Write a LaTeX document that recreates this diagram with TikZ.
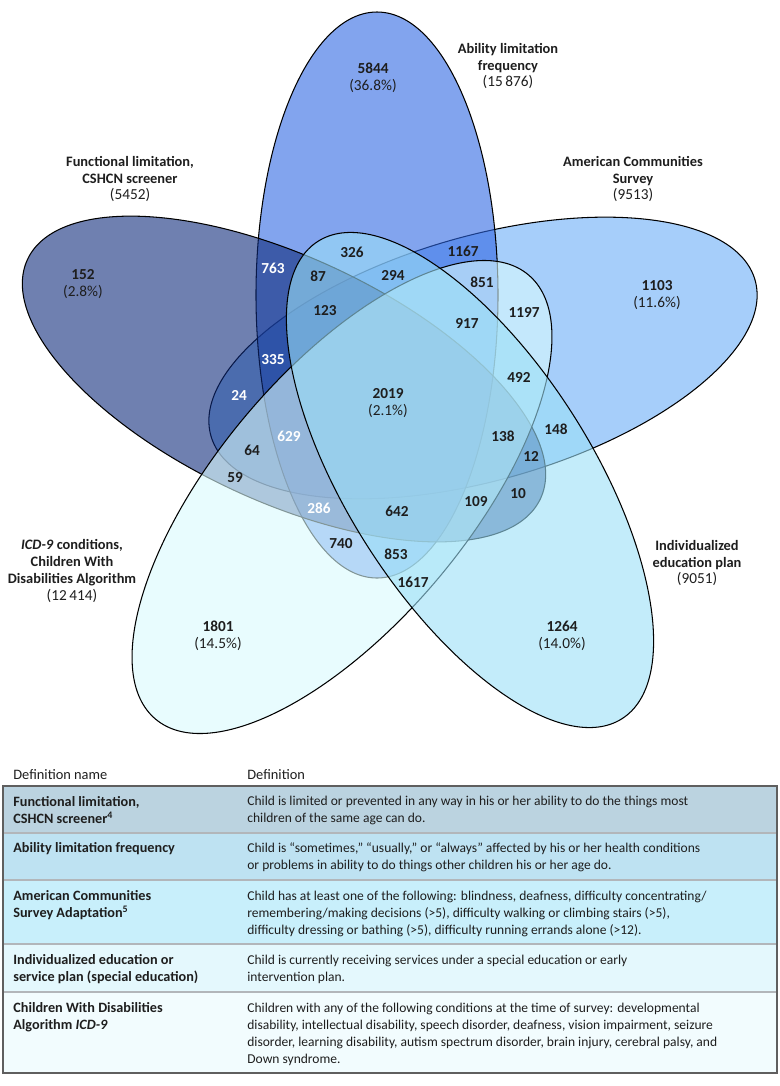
\documentclass[tikz,border=0pt]{standalone}
\usepackage{fontspec}
\setmainfont{Carlito}
\usepackage{tikz}
\definecolor{flblue}{RGB}{15,43,123}
\definecolor{alblue}{RGB}{47,103,227}
\definecolor{acsblue}{RGB}{107,173,247}
\definecolor{icdcyan}{RGB}{217,250,253}
\definecolor{iepcyan}{RGB}{155,223,247}
\definecolor{rowfl}{RGB}{187,211,224}
\definecolor{rowal}{RGB}{190,226,242}
\definecolor{rowacs}{RGB}{200,239,251}
\definecolor{rowiep}{RGB}{228,248,253}
\definecolor{rowicd}{RGB}{242,252,254}
\definecolor{txtgray}{RGB}{30,30,30}
\definecolor{rulegray}{RGB}{95,95,95}
\definecolor{sepgray}{RGB}{178,182,186}
\newcommand{\pct}[1]{\\\mdseries(#1\%)}

\begin{document}
\begin{tikzpicture}[
  x=0.02cm, y=-0.02cm,
  vset/.style={draw=black, line width=0.6pt, fill opacity=0.6},
  count/.style={font=\fontsize{8.7}{9.6}\selectfont\bfseries, align=center, text=txtgray, inner sep=0pt},
  wcount/.style={count, text=white},
  setname/.style={font=\fontsize{8.2}{9.6}\selectfont\bfseries, align=center, text=txtgray, inner sep=0pt},
  head/.style={anchor=west, font=\fontsize{8.2}{9.6}\selectfont, text=txtgray, inner sep=0pt},
  defname/.style={anchor=west, align=left, font=\fontsize{8.1}{9.64}\selectfont\bfseries, text=txtgray, inner sep=0pt},
  deftext/.style={anchor=west, align=left, font=\fontsize{7.7}{9.64}\selectfont, text=txtgray, inner sep=0pt},
  seprule/.style={sepgray, line width=1pt},
  frame/.style={rulegray, line width=0.7pt}
]
\useasboundingbox (0,0) rectangle (780,1086);

% the five sets
\draw[vset, fill=acsblue, shift={(483,358)}, rotate=16]    (0,0) ellipse [x radius=283, y radius=122];
\draw[vset, fill=alblue,  shift={(377,295)}, rotate=90]    (0,0) ellipse [x radius=283, y radius=121];
\draw[vset, fill=flblue,  shift={(284,379)}, rotate=-25]   (0,0) ellipse [x radius=283, y radius=122];
\draw[vset, fill=icdcyan, shift={(342,497)}, rotate=50]    (0,0) ellipse [x radius=290, y radius=126];
\draw[vset, fill=iepcyan, shift={(470,480)}, rotate=-57.5] (0,0) ellipse [x radius=283, y radius=122];

% set names
\node[setname] (nfl)  at (130,179) {Functional limitation,\\CSHCN screener\\\mdseries\fontsize{8.7}{9.6}\selectfont(5452)};
\node[setname] (nal)  at (508,66)  {Ability limitation\\frequency\\\mdseries\fontsize{8.7}{9.6}\selectfont(15\,876)};
\node[setname] (nacs) at (633,179) {American Communities\\Survey\\\mdseries\fontsize{8.7}{9.6}\selectfont(9513)};
\node[setname] (nicd) at (72,571)  {\textit{ICD-9} conditions,\\Children With\\Disabilities Algorithm\\\mdseries\fontsize{8.7}{9.6}\selectfont(12\,414)};
\node[setname] (niep) at (697,563) {Individualized\\education plan\\\mdseries\fontsize{8.7}{9.6}\selectfont(9051)};

% counts
\node[count]  (c5844) at (373,78)  {5844\pct{36.8}};
\node[count]  (c152)  at (83,284)  {152\pct{2.8}};
\node[count]  (c1103) at (657,295) {1103\pct{11.6}};
\node[count]  (c1801) at (218,636) {1801\pct{14.5}};
\node[count]  (c1264) at (562,636) {1264\pct{14.0}};
\node[count]  (c2019) at (388,403) {2019\pct{2.1}};
\node[wcount] (c763)  at (273,268) {763};
\node[count]  (c87)   at (318,276) {87};
\node[count]  (c326)  at (352,252) {326};
\node[count]  (c294)  at (393,275) {294};
\node[count]  (c1167) at (463,251) {1167};
\node[count]  (c851)  at (482,282) {851};
\node[count]  (c123)  at (325,311) {123};
\node[count]  (c917)  at (467,323) {917};
\node[count]  (c1197) at (524,312) {1197};
\node[wcount] (c335)  at (273,360) {335};
\node[wcount] (c24)   at (239,395) {24};
\node[count]  (c492)  at (519,377) {492};
\node[wcount] (c629)  at (289,436) {629};
\node[count]  (c64)   at (252,450) {64};
\node[count]  (c59)   at (235,478) {59};
\node[count]  (c138)  at (503,436) {138};
\node[count]  (c148)  at (556,429) {148};
\node[count]  (c12)   at (531,456) {12};
\node[count]  (c10)   at (518,494) {10};
\node[count]  (c109)  at (476,502) {109};
\node[count]  (c642)  at (397,511) {642};
\node[wcount] (c286)  at (319,508) {286};
\node[count]  (c740)  at (341,544) {740};
\node[count]  (c853)  at (396,554) {853};
\node[count]  (c1617) at (413,582) {1617};

% definitions table
\fill[rowfl]  (3,786)  rectangle (777,833);
\fill[rowal]  (3,833)  rectangle (777,880);
\fill[rowacs] (3,880)  rectangle (777,944);
\fill[rowiep] (3,944)  rectangle (777,992);
\fill[rowicd] (3,992)  rectangle (777,1073);
\draw[seprule] (3,833) -- (777,833);
\draw[seprule] (3,880) -- (777,880);
\draw[seprule] (3,944) -- (777,944);
\draw[seprule] (3,992) -- (777,992);
\draw[frame] (3,786) rectangle (777,1073);

\node[head] (hname) at (13,775)  {Definition name};
\node[head] (hdef)  at (247,775) {Definition};

\node[defname] (dfl)  at (13,810)   {Functional limitation,\\CSHCN screener\textsuperscript{4}};
\node[deftext] (tfl)  at (247,810)  {Child is limited or prevented in any way in his or her ability to do the things most\\children of the same age can do.};
\node[defname] (dal)  at (13,849)   {Ability limitation frequency};
\node[deftext] (tal)  at (247,857)  {Child is “sometimes,” “usually,” or “always” affected by his or her health conditions\\or problems in ability to do things other children his or her age do.};
\node[defname] (dacs) at (13,905)   {American Communities\\Survey Adaptation\textsuperscript{5}};
\node[deftext] (tacs) at (247,914)  {Child has at least one of the following: blindness, deafness, difficulty concentrating/\\remembering/making decisions (>5), difficulty walking or climbing stairs (>5),\\difficulty dressing or bathing (>5), difficulty running errands alone (>12).};
\node[defname] (diep) at (13,969)   {Individualized education or\\service plan (special education)};
\node[deftext] (tiep) at (247,969)  {Child is currently receiving services under a special education or early\\intervention plan.};
\node[defname] (dicd) at (13,1017)  {Children With Disabilities\\Algorithm \textit{ICD-9}};
\node[deftext] (ticd) at (247,1034) {Children with any of the following conditions at the time of survey: developmental\\disability, intellectual disability, speech disorder, deafness, vision impairment, seizure\\disorder, learning disability, autism spectrum disorder, brain injury, cerebral palsy, and\\Down syndrome.};
\end{tikzpicture}
\end{document}
